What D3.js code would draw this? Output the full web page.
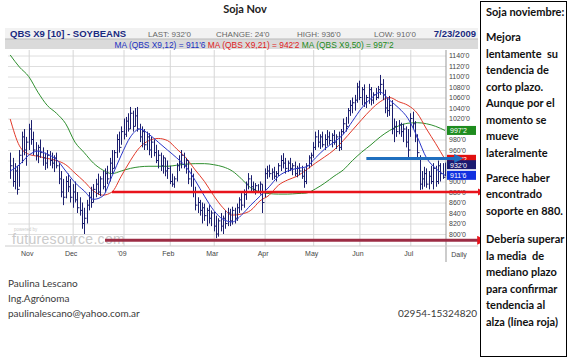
<!DOCTYPE html>
<html><head><meta charset="utf-8">
<script src="https://cdn.jsdelivr.net/npm/d3@7"></script>
<style>
html,body{margin:0;padding:0;background:#fff;}
svg{display:block;}
</style></head>
<body>
<svg id="c" width="569" height="359"></svg>
<script>
// ---- data ----
const months = ["Nov","Dec","'09","Feb","Mar","Apr","May","Jun","Jul"];
const monthStartIdx = [8,27,49,69,88,110,131,151,173];
const priceTicks = d3.range(800,1161,20);
const highs = [955,945,935,930,960,995,1000,985,1010,1017,
995,975,970,980,965,955,960,958,955,950,
955,935,920,905,910,915,905,895,900,880,
870,860,850,865,880,890,895,905,915,910,
920,925,930,945,960,960,990,995,1005,1020,
1023,1030,1042,1035,1040,1042,1010,1005,1000,995,
992,985,980,970,960,955,950,945,940,930,
915,910,935,950,960,955,945,940,925,915,
890,870,865,860,858,850,855,845,842,835,
830,840,835,845,850,848,852,850,858,870,
878,885,900,916,912,900,897,895,900,895,
925,930,932,925,928,920,935,950,954,945,
940,945,935,938,930,935,930,925,935,950,
955,975,995,998,990,995,990,998,995,992,
998,990,995,1000,1020,1023,1040,1055,1060,1065,
1088,1092,1080,1085,1065,1086,1080,1070,1078,1082,
1103,1095,1075,1060,1063,1055,1020,1015,1017,1012,
1010,1005,1000,1030,1033,1015,990,950,920,928,
925,920,930,935,930,940,935,935,936];
const lows = [905,890,885,875,890,935,950,930,960,970,
950,940,935,945,930,922,925,930,925,918,
925,895,870,855,868,880,860,850,860,840,
835,810,800,820,845,850,860,870,875,872,
885,880,895,900,915,925,945,955,970,980,
985,995,1000,995,1005,995,975,965,960,960,
950,945,948,935,925,920,915,910,905,895,
890,888,900,920,925,925,915,895,890,870,
845,840,835,820,825,815,820,815,805,792,
795,805,800,810,815,815,818,820,825,840,
845,850,865,885,880,878,875,878,875,840,
870,905,908,903,905,900,910,920,925,915,
918,920,912,910,908,912,905,888,895,925,
930,945,960,965,962,965,960,968,970,965,
970,962,958,960,990,995,1010,1025,1030,1035,
1050,1055,1045,1042,1040,1048,1045,1048,1055,1058,
1065,1055,1030,1023,1025,990,975,985,990,985,
975,965,945,985,1000,975,945,884,885,890,
888,885,895,885,890,895,900,905,910];
const closes = [930,900,920,885,950,985,960,975,1000,980,
960,950,965,955,945,935,950,940,935,945,
930,905,880,870,900,890,870,880,865,850,
845,820,830,855,870,860,885,895,880,905,
890,915,905,935,925,955,980,965,995,990,
1015,1000,1030,1005,1025,1000,985,995,970,985,
960,975,955,940,950,930,945,920,925,900,
895,905,930,935,950,930,940,905,910,880,
855,860,845,850,835,845,830,840,815,800,
825,815,830,820,840,825,845,830,850,865,
855,875,895,905,890,885,892,880,895,860,
915,920,915,918,910,915,930,940,935,925,
935,925,930,915,925,920,910,900,930,945,
950,965,985,975,985,970,980,985,978,988,
975,985,965,995,1010,1005,1035,1045,1050,1055,
1080,1060,1075,1050,1060,1075,1055,1065,1060,1075,
1085,1065,1040,1035,1045,1000,1005,995,1008,995,
1000,975,960,1020,1010,985,955,895,905,915,
895,910,900,925,900,930,915,908,932];
const maIdx = d3.range(0,189,4);
const ma12 = [920,932,950,958,952,942,920,898,882,866,872,910,950,985,1000,990,975,960,945,928,902,872,845,828,823,836,855,872,890,910,920,925,928,945,962,975,990,1015,1040,1058,1070,1055,1040,1020,985,945,925,911.75];
const ma21 = [1019,968,952,948,944,940,932,916,900,882,874,880,910,940,965,978,982,978,962,945,922,900,873,850,836,838,845,863,874,893,903,910,922,935,947,960,978,998,1018,1037,1052,1060,1052,1045,1030,1000,972,942.25];
const ma50 = [1141,1118,1100,1070,1045,1030,1010,975,955,935,922,915,920,925,928,929,929,929,931,933,934,934,932,928,920,905,888,880,877,876,876,877,878,886,897,910,922,940,956,970,985,997,1006,1011,1012,1010,1005,997.25];
const lastVals = [
  {label:"997'2", v:997.25, bg:"#1e8c1e"},
  {label:"942'2", v:942.25, bg:"#e01010"},
  {label:"932'0", v:932, bg:"#1a1a70"},
  {label:"911'6", v:911.75, bg:"#1030e0"}
];
const hiddenTicks = [1000, 940, 920];
const supportLevel = 880, resistLevel = 944, bottomLevel = 788;
const sideText = ["Soja noviembre:","","Mejora","lentamente  su","tendencia de","corto plazo.","Aunque por el","momento se","mueve","lateralmente","","Parece haber","encontrado","soporte en 880.","","Debería superar","la media  de","mediano plazo","para confirmar","tendencia al","alza (línea roja)"];
const authorText = ["Paulina Lescano","Ing.Agrónoma","paulinalescano@yahoo.com.ar"];

// ---- layout ----
const svg = d3.select("#c");
const P = {l:8, r:446, t:50, b:246};
const x = d3.scaleLinear().domain([0,188]).range([10.2,445]);
const y = d3.scaleLinear().domain([800,1140]).range([234,55.5]);
const fontChart = "'Liberation Sans', Arial, sans-serif";
const fontDoc = "Lato, 'Open Sans', sans-serif";

// title
svg.append("text").attr("x",245).attr("y",13).attr("text-anchor","middle")
  .attr("font-family",fontDoc).attr("font-weight","bold").attr("font-size",11)
  .attr("fill","#222").text("Soja Nov");

// header rows
svg.append("rect").attr("x",5).attr("y",28).attr("width",473).attr("height",11).attr("fill","#f2f2f2");
svg.append("rect").attr("x",5).attr("y",39).attr("width",473).attr("height",10).attr("fill","#dadada");
svg.append("line").attr("x1",5).attr("x2",478).attr("y1",39).attr("y2",39).attr("stroke","#bbb");
const hdr = svg.append("g").attr("font-family",fontChart).attr("font-size",8);
hdr.append("text").attr("x",10).attr("y",37).attr("font-weight","bold").attr("font-size",9.5).attr("fill","#1a2a80").text("QBS X9 [10] - SOYBEANS");
[["LAST: 932'0",148],["CHANGE: 24'0",216],["HIGH: 936'0",297],["LOW: 910'0",374]].forEach(d=>{
  hdr.append("text").attr("x",d[1]).attr("y",37).attr("fill","#666").text(d[0]);
});
hdr.append("text").attr("x",476).attr("y",37).attr("text-anchor","end").attr("font-weight","bold").attr("font-size",9.5).attr("fill","#1a2a80").text("7/23/2009");
const maT = hdr.append("text").attr("x",254).attr("y",47.5).attr("text-anchor","middle").attr("font-size",8.4);
maT.append("tspan").attr("fill","#2030c0").text("MA (QBS X9,12) = 911'6 ");
maT.append("tspan").attr("fill","#e02020").text("MA (QBS X9,21) = 942'2 ");
maT.append("tspan").attr("fill","#208a20").text("MA (QBS X9,50) = 997'2");

// plot background + grid
svg.append("rect").attr("x",P.l).attr("y",P.t).attr("width",P.r-P.l).attr("height",P.b-P.t).attr("fill","#fff");
const gridY = svg.append("g").attr("transform",`translate(${P.l},0)`)
  .call(d3.axisRight(y).tickValues(priceTicks).tickSize(P.r-P.l).tickFormat(""));
gridY.select(".domain").remove();
gridY.selectAll("line").attr("stroke","#dedede");
gridY.selectAll(".tick").filter(d=>y(d)<P.t||y(d)>P.b).remove();
const gridX = svg.append("g").attr("transform",`translate(0,${P.t})`)
  .call(d3.axisBottom(x).tickValues(monthStartIdx).tickSize(P.b-P.t).tickFormat(""));
gridX.select(".domain").remove();
gridX.selectAll("line").attr("stroke","#d6d6d6");

// axis column separator
svg.append("line").attr("x1",P.r).attr("x2",P.r).attr("y1",P.t).attr("y2",262).attr("stroke","#999");
svg.append("line").attr("x1",5).attr("x2",478).attr("y1",P.b).attr("y2",P.b).attr("stroke","#ccc");

// watermark
svg.append("text").attr("x",14).attr("y",231).attr("font-family",fontChart).attr("font-size",4.5).attr("fill","#ccc").text("powered by");
svg.append("text").attr("x",12).attr("y",244).attr("font-family",fontChart).attr("font-size",14).attr("fill","#cacaca").attr("letter-spacing",0.3).text("futuresource.com");

// clip
svg.append("clipPath").attr("id","pc").append("rect").attr("x",P.l).attr("y",P.t).attr("width",P.r-P.l).attr("height",P.b-P.t);
const plot = svg.append("g").attr("clip-path","url(#pc)");

// MA lines
const maLine = arr => d3.line().x((d,i)=>x(maIdx[i])).y(d=>y(d)).curve(d3.curveMonotoneX)(arr);
plot.append("path").attr("d",maLine(ma50)).attr("fill","none").attr("stroke","#2f8f2f").attr("stroke-width",1);
plot.append("path").attr("d",maLine(ma21)).attr("fill","none").attr("stroke","#e23a2a").attr("stroke-width",1);

// price bars
const bars = plot.append("g").attr("stroke","#1c1f6e").attr("stroke-width",1);
highs.forEach((h,i)=>{
  const xx = Math.round(x(i))+0.5;
  bars.append("line").attr("x1",xx).attr("x2",xx).attr("y1",y(h)).attr("y2",y(lows[i]));
  bars.append("line").attr("x1",xx).attr("x2",xx+2).attr("y1",y(closes[i])).attr("y2",y(closes[i]));
});
plot.append("path").attr("d",maLine(ma12)).attr("fill","none").attr("stroke","#2a36c8").attr("stroke-width",1);

// y axis labels
const yAx = svg.append("g").attr("transform",`translate(${P.r},0)`)
  .call(d3.axisRight(y).tickValues(priceTicks.filter(v=>v<=1140 && !hiddenTicks.includes(v))).tickSize(0).tickPadding(3).tickFormat(d=>d+"'0"));
yAx.select(".domain").remove();
yAx.selectAll("text").attr("font-family",fontChart).attr("font-size",7).attr("fill","#444");

// x axis labels
const xAx = svg.append("g").attr("transform",`translate(-2,${P.b})`)
  .call(d3.axisBottom(x).tickValues(monthStartIdx).tickSize(0).tickPadding(5).tickFormat((d,i)=>months[i]));
xAx.select(".domain").remove();
xAx.selectAll("text").attr("font-family",fontChart).attr("font-size",7).attr("fill","#444");
svg.append("text").attr("x",459).attr("y",257).attr("text-anchor","middle").attr("font-family",fontChart).attr("font-size",7).attr("fill","#444").text("Daily");

// last value boxes
lastVals.forEach(d=>{
  const g = svg.append("g").attr("transform",`translate(${P.r+1},${y(d.v)})`);
  g.append("rect").attr("x",0).attr("y",-4.5).attr("width",29).attr("height",9).attr("fill",d.bg);
  g.append("text").attr("x",3).attr("y",3).attr("font-family",fontChart).attr("font-size",7).attr("fill","#fff").text(d.label);
});

// annotation arrows
const defs = svg.append("defs");
function marker(id,color){
  defs.append("marker").attr("id",id).attr("viewBox","0 0 10 10").attr("refX",2).attr("refY",5)
    .attr("markerWidth",3).attr("markerHeight",3).attr("orient","auto")
    .append("path").attr("d","M0,0L10,5L0,10Z").attr("fill",color);
}
marker("mr","#e8141c"); marker("mb","#1f6fbf"); marker("mm","#e8141c");
svg.append("line").attr("x1",x(44)).attr("x2",479).attr("y1",y(supportLevel)).attr("y2",y(supportLevel))
  .attr("stroke","#e8141c").attr("stroke-width",2.5).attr("marker-end","url(#mr)");
svg.append("line").attr("x1",x(154)).attr("x2",456).attr("y1",y(resistLevel)).attr("y2",y(resistLevel))
  .attr("stroke","#1f6fbf").attr("stroke-width",3).attr("marker-end","url(#mb)");
svg.append("line").attr("x1",x(41)).attr("x2",479).attr("y1",y(bottomLevel)).attr("y2",y(bottomLevel))
  .attr("stroke","#9c2c44").attr("stroke-width",3).attr("marker-end","url(#mm)");

// author text
const at = svg.append("g").attr("font-family",fontDoc).attr("font-size",10).attr("fill","#3a3a3a");
authorText.forEach((t,i)=>at.append("text").attr("x",8).attr("y",287+i*15).text(t));
at.append("text").attr("x",398).attr("y",317).text("02954-15324820");

// side text box
svg.append("rect").attr("x",480.5).attr("y",1.5).attr("width",86).attr("height",355).attr("fill","#fff").attr("stroke","#000").attr("stroke-width",1);
const st = svg.append("g").attr("font-family",fontDoc).attr("font-weight","bold").attr("font-size",11).attr("fill","#111");
const gaps = [0, 8.5, 8.5, 12];
let yy = 16, gi = 0;
sideText.forEach((t,i)=>{
  if(t==="") { gi++; yy += gaps[gi]; return; }
  st.append("text").attr("x",486).attr("y",yy).attr("xml:space","preserve").style("white-space","pre").text(t);
  yy += 16.5;
});
</script>
</body></html>
